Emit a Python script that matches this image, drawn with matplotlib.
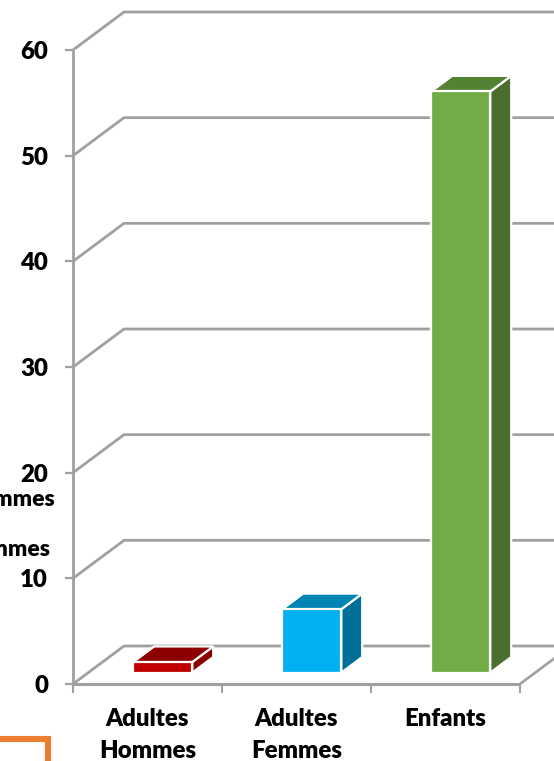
import matplotlib
matplotlib.use("Agg")
import matplotlib.pyplot as plt
from matplotlib.patches import Polygon, Rectangle

categories = [["Adultes", "Hommes"], ["Adultes", "Femmes"], ["Enfants"]]
values = [1, 6, 55]
yticks = [0, 10, 20, 30, 40, 50, 60]
front_colors = ["#C00000", "#00B0F0", "#70AD47"]
top_colors = ["#8E0000", "#0084B4", "#548235"]
side_colors = ["#8A0000", "#006F97", "#4A6E2E"]
cropped_labels = ["Hommes", "Femmes"]

W, H = 554, 761
fig = plt.figure(figsize=(W / 100, H / 100), dpi=100)
plt.rcParams["font.family"] = ["Lato", "DejaVu Sans"]
ax = fig.add_axes([73 / W, 1 - 684 / H, 447 / W, 634 / H])
ax.set_xlim(0, 3)
ax.set_ylim(0, 60)
ax.axis("off")

grid = "#A0A0A0"
DX = 51 / 149      # depth shift in category units
DY = 38 / (634 / 60)  # depth shift in value units
LONG = 3.6         # right end of the back wall (runs off the figure)
WEIGHT = "heavy"
FS = 17.3


def proj(x, y, d=0.0):
    return (x + DX * d, y + DY * d)


def line(pts, lw=2.0, z=1):
    ax.plot(*zip(*pts), color=grid, lw=lw, clip_on=False, zorder=z,
            solid_capstyle="butt", solid_joinstyle="miter")


# walls
for v in yticks:
    line([proj(0, v), proj(0, v, 1), (LONG, proj(0, v, 1)[1])], lw=2.0)
    line([(-8 / 149, v), (0, v)], lw=1.6)
line([(0, 0), (0, 60)], lw=2.0, z=2)
line([(0, 0), (3, 0)], lw=2.2, z=2)
line([proj(3, 0), proj(3, 0, 1)], lw=1.9)
for i in range(4):
    line([(i, 0), (i, -9 / (634 / 60))], lw=1.5)

# bars
half = 29.5 / 149
d0, d1 = 0.30, 0.71
for i, v in enumerate(values):
    c = i + 0.5
    l, r = c - half, c + half
    front = [proj(l, 0, d0), proj(r, 0, d0), proj(r, v, d0), proj(l, v, d0)]
    side = [proj(r, 0, d0), proj(r, 0, d1), proj(r, v, d1), proj(r, v, d0)]
    top = [proj(l, v, d0), proj(r, v, d0), proj(r, v, d1), proj(l, v, d1)]
    for pts, col in ((side, side_colors[i]), (top, top_colors[i]), (front, front_colors[i])):
        ax.add_patch(Polygon(pts, closed=True, facecolor=col, edgecolor="white",
                             lw=1.6, zorder=5, clip_on=False, joinstyle="miter"))

# y tick labels
for v in yticks:
    ax.annotate(str(v), (0, v), xytext=(-25 * 0.72, -2.0 * 0.72), textcoords="offset points",
                ha="right", va="center", fontsize=FS, fontweight=WEIGHT,
                color="black", annotation_clip=False)

# x labels
for i, lab in enumerate(categories):
    for j, s in enumerate(lab):
        ax.annotate(s, (i + 0.5, 0), xytext=(0, -(35 + 31.5 * j) * 0.72),
                    textcoords="offset points", ha="center", va="center",
                    fontsize=FS, fontweight=WEIGHT, color="black",
                    annotation_clip=False)

# cropped legend text at the left edge
fig.text(55 / W, 1 - 500 / H, cropped_labels[0], ha="right", va="center",
         fontsize=FS - 0.8, fontweight=WEIGHT, color="black")
fig.text(50 / W, 1 - 549 / H, cropped_labels[1], ha="right", va="center",
         fontsize=FS - 0.8, fontweight=WEIGHT, color="black")

# orange box corner
fig.add_artist(Rectangle((-20 / W, -40 / H), 67.5 / W, (761 - 739 + 40) / H,
                         transform=fig.transFigure, facecolor="none",
                         edgecolor="#ED7D31", lw=4.4, clip_on=True))

fig.savefig("out.png", dpi=100)
